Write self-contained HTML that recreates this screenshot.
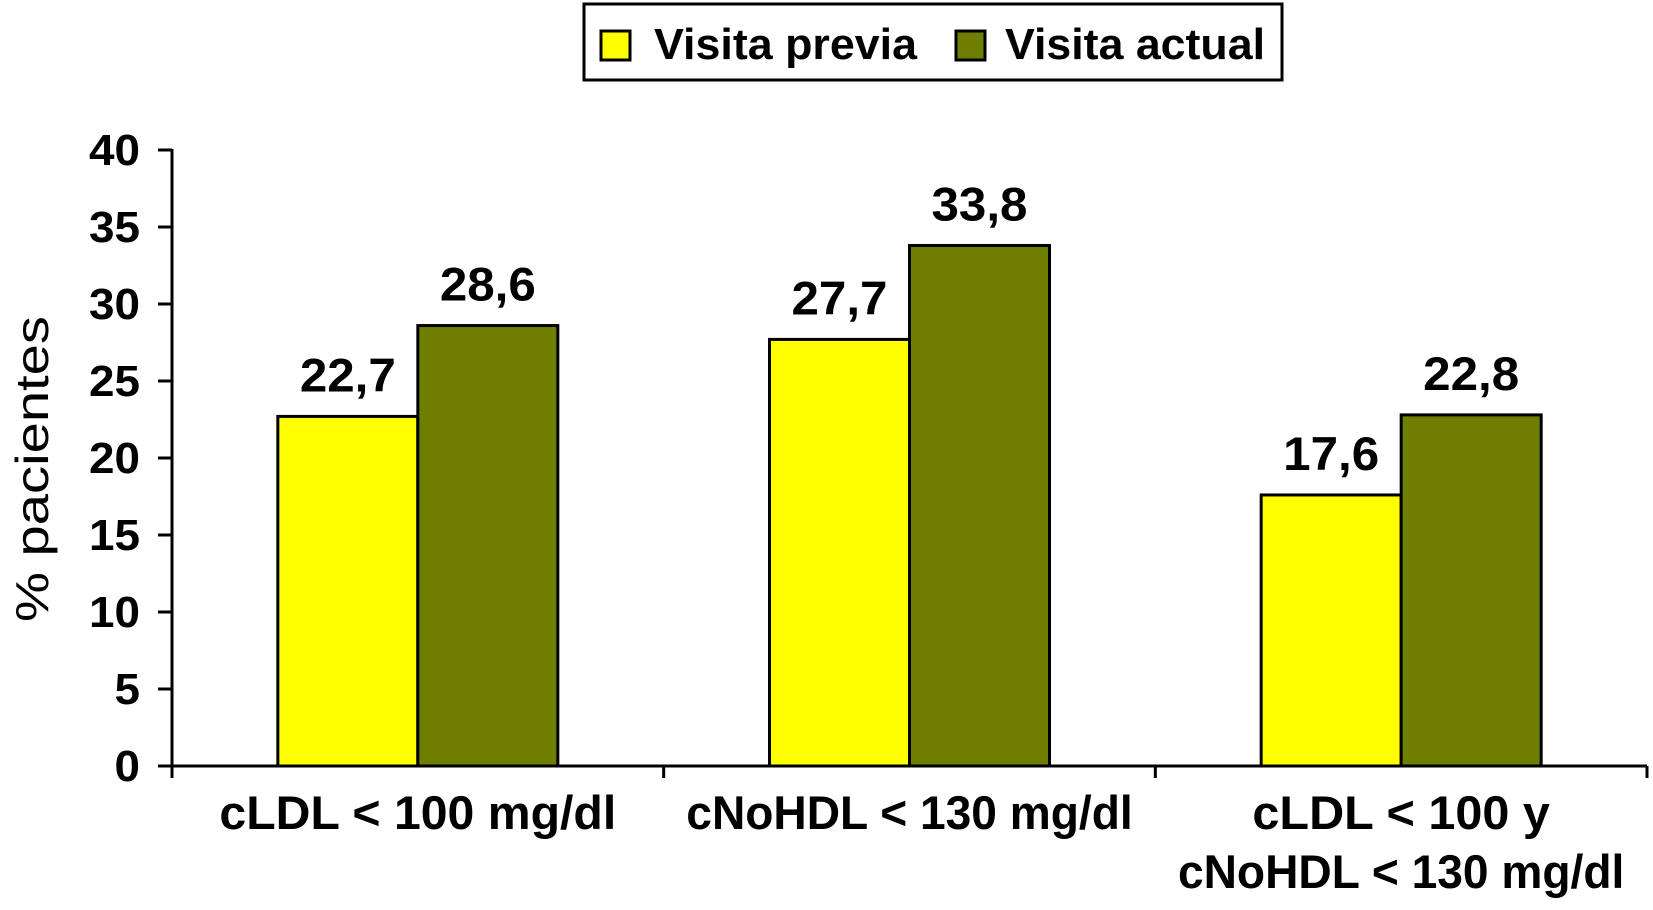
<!DOCTYPE html>
<html><head><meta charset="utf-8"><style>
html,body{margin:0;padding:0;background:#fff;}
svg{display:block;font-family:"Liberation Sans",Arial,sans-serif;}
</style></head><body>
<svg id="chart" width="1653" height="910" viewBox="0 0 1653 910">
  <g>
    <rect x="584" y="4" width="698" height="76" fill="#fff" stroke="#000" stroke-width="3"/>
    <g>
      <rect x="601" y="31" width="29" height="29" fill="#ffff00" stroke="#000" stroke-width="3"/>
      <text x="654" y="59" font-size="44" font-weight="bold" textLength="263" lengthAdjust="spacingAndGlyphs">Visita previa</text>
    </g>
    <g>
      <rect x="956" y="31" width="29" height="29" fill="#6e7f00" stroke="#000" stroke-width="3"/>
      <text x="1005" y="59" font-size="44" font-weight="bold" textLength="260" lengthAdjust="spacingAndGlyphs">Visita actual</text>
    </g>
  </g>
  <text transform="translate(48,469) rotate(-90)" text-anchor="middle" font-size="46" textLength="306" lengthAdjust="spacingAndGlyphs">% pacientes</text>
  <g id="plot"></g>
</svg>
<script>
const categories = [["cLDL < 100 mg/dl"], ["cNoHDL < 130 mg/dl"], ["cLDL < 100 y", "cNoHDL < 130 mg/dl"]];
const previaValues = [22.7, 27.7, 17.6];
const actualValues = [28.6, 33.8, 22.8];
const previaLabels = ["22,7", "27,7", "17,6"];
const actualLabels = ["28,6", "33,8", "22,8"];
const yTicks = [0, 5, 10, 15, 20, 25, 30, 35, 40];

const NS = "http://www.w3.org/2000/svg";
const plot = document.getElementById("plot");
const X0 = 172, X1 = 1647, Y0 = 766, Y1 = 150, YMAX = 40;
const groupW = (X1 - X0) / categories.length;
const barW = 140;
function y(v){ return Y0 - (v / YMAX) * (Y0 - Y1); }
function gx(i){ return X0 + groupW * (i + 0.5); }
function mk(tag, attrs, parent){
  const el = document.createElementNS(NS, tag);
  for (const k in attrs) el.setAttribute(k, attrs[k]);
  (parent || plot).appendChild(el);
  return el;
}

function drawSeries(vals, labels, offset, color, name){
  vals.forEach((v, i) => {
    const x = gx(i) + offset;
    const r = mk("rect", {x: x, y: y(v), width: barW, height: Y0 - y(v), fill: color, stroke: "#000", "stroke-width": 3});
    
    
    const t = mk("text", {x: x + barW / 2, y: y(v) - 25, "text-anchor": "middle", "font-size": 47, "font-weight": "bold", textLength: 96, lengthAdjust: "spacingAndGlyphs"});
    t.textContent = labels[i];
    
    
  });
}
drawSeries(previaValues, previaLabels, -barW, "#ffff00", "previa");
drawSeries(actualValues, actualLabels, 0, "#6e7f00", "actual");

const ya = mk("line", {x1: X0, y1: Y1 - 1, x2: X0, y2: Y0 + 1, stroke: "#000", "stroke-width": 3});


yTicks.forEach(t => {
  const tk = mk("line", {x1: X0 - 14, y1: y(t), x2: X0, y2: y(t), stroke: "#000", "stroke-width": 3});
  
  
  const lb = mk("text", {x: 140, y: y(t) + 15, "text-anchor": "end", "font-size": 44, "font-weight": "bold", textLength: String(t).length * 25.5, lengthAdjust: "spacingAndGlyphs"});
  lb.textContent = t;
  
  
});

const xa = mk("line", {x1: X0, y1: Y0, x2: X1, y2: Y0, stroke: "#000", "stroke-width": 3});


for (let i = 0; i <= categories.length; i++){
  const xx = X0 + groupW * i;
  const tk = mk("line", {x1: xx, y1: Y0, x2: xx, y2: Y0 + 12, stroke: "#000", "stroke-width": 3});
  
  
}
categories.forEach((lines, i) => {
  lines.forEach((s, j) => {
    const t = mk("text", {x: gx(i), y: 829 + j * 59, "text-anchor": "middle", "font-size": 47, "font-weight": "bold", textLength: s.length * 24.8, lengthAdjust: "spacingAndGlyphs"});
    t.textContent = s;
    
    
  });
});
</script>
</body></html>
